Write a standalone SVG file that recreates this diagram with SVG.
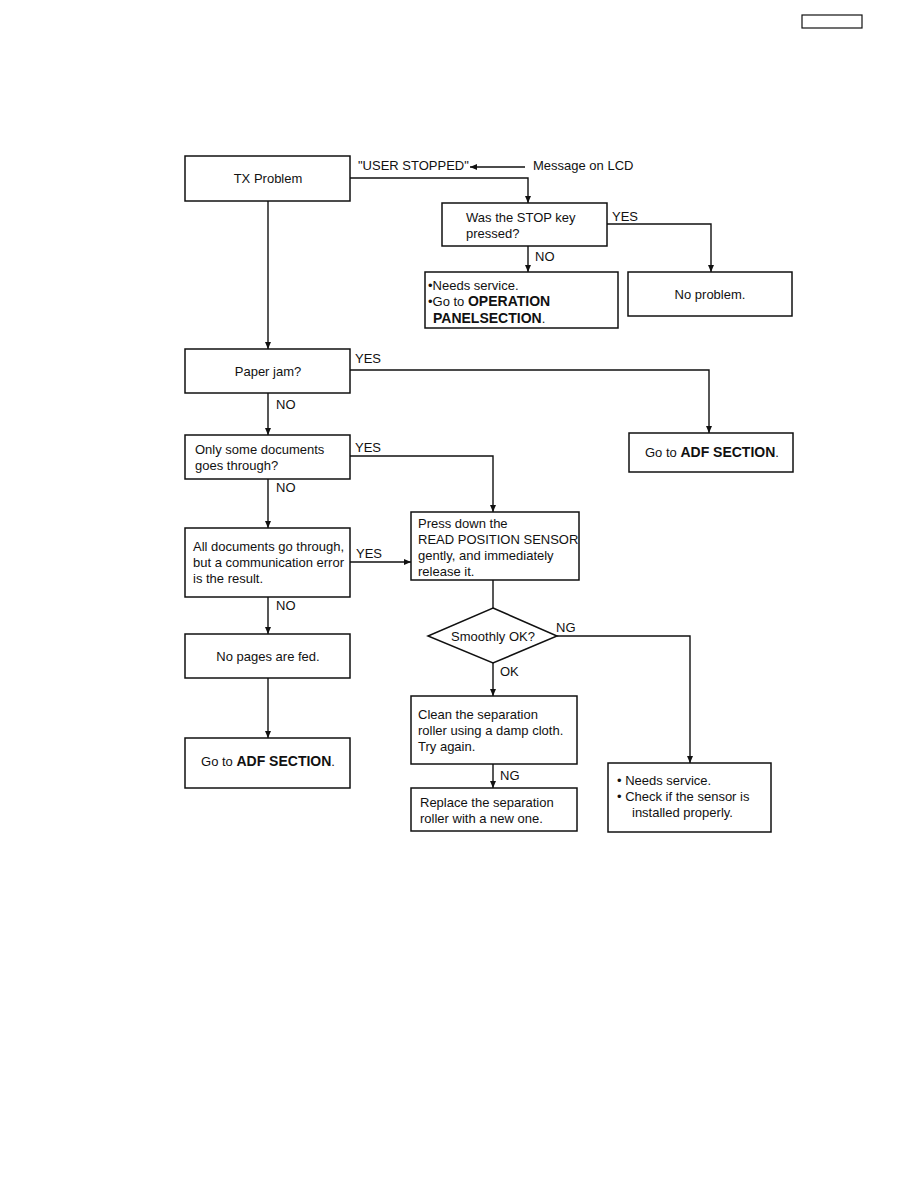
<svg xmlns="http://www.w3.org/2000/svg" width="918" height="1188" viewBox="0 0 918 1188">
<style>
.b{fill:#fff;stroke:#111;stroke-width:1.5}
.c{fill:none;stroke:#111;stroke-width:1.4}
text{font-family:"Liberation Sans",Arial,sans-serif;font-size:13px;fill:#111}
.m{text-anchor:middle}
.bd{font-weight:bold;font-size:14px}
</style>
<defs>
<marker id="a" markerWidth="8" markerHeight="8" refX="7" refY="4" orient="auto" markerUnits="userSpaceOnUse">
<path d="M0,1 L7,4 L0,7 Z" fill="#111"/>
</marker>
</defs>
<rect x="802" y="15" width="60" height="13" fill="none" stroke="#111" stroke-width="1.2"/>
<g id="connectors">
<path class="c" d="M525,167 H470" marker-end="url(#a)"/>
<path class="c" d="M350,178 H528 V203" marker-end="url(#a)"/>
<path class="c" d="M607,224 H711 V272" marker-end="url(#a)"/>
<path class="c" d="M528,246 V272" marker-end="url(#a)"/>
<path class="c" d="M268,201 V349" marker-end="url(#a)"/>
<path class="c" d="M350,370 H709 V433" marker-end="url(#a)"/>
<path class="c" d="M268,393 V435" marker-end="url(#a)"/>
<path class="c" d="M350,456 H493 V512" marker-end="url(#a)"/>
<path class="c" d="M268,479 V528" marker-end="url(#a)"/>
<path class="c" d="M350,562 H411" marker-end="url(#a)"/>
<path class="c" d="M268,597 V634" marker-end="url(#a)"/>
<path class="c" d="M268,678 V738" marker-end="url(#a)"/>
<path class="c" d="M493,580 V608"/>
<path class="c" d="M557,636 H690 V763" marker-end="url(#a)"/>
<path class="c" d="M493,663 V696" marker-end="url(#a)"/>
<path class="c" d="M493,764 V788" marker-end="url(#a)"/>
<text x="358" y="170">"USER STOPPED"</text>
<text x="533" y="170">Message on LCD</text>
<text x="612" y="221">YES</text>
<text x="535" y="261">NO</text>
<text x="355" y="363">YES</text>
<text x="276" y="409">NO</text>
<text x="355" y="452">YES</text>
<text x="276" y="492">NO</text>
<text x="356" y="558">YES</text>
<text x="276" y="610">NO</text>
<text x="556" y="632">NG</text>
<text x="500" y="676">OK</text>
<text x="500" y="780">NG</text>
</g>
<g id="tx"><rect class="b" x="185" y="156" width="165" height="45"/><text class="m" x="268" y="183">TX Problem</text></g>
<g id="stopkey"><rect class="b" x="442" y="203" width="165" height="43"/><text x="466" y="222">Was the STOP key</text><text x="466" y="238">pressed?</text></g>
<g id="noproblem"><rect class="b" x="628" y="272" width="164" height="44"/><text class="m" x="710" y="299">No problem.</text></g>
<g id="opservice"><rect class="b" x="425" y="272" width="193" height="56"/><text x="428" y="290">•Needs service.</text><text x="428" y="306">•Go to <tspan class="bd">OPERATION</tspan></text><text x="433" y="323"><tspan class="bd">PANELSECTION</tspan>.</text></g>
<g id="paperjam"><rect class="b" x="185" y="349" width="165" height="44"/><text class="m" x="268" y="376">Paper jam?</text></g>
<g id="adf1"><rect class="b" x="629" y="433" width="164" height="39"/><text x="645" y="457">Go to <tspan class="bd">ADF SECTION</tspan>.</text></g>
<g id="onlysome"><rect class="b" x="185" y="435" width="165" height="44"/><text x="195" y="454">Only some documents</text><text x="195" y="470">goes through?</text></g>
<g id="press"><rect class="b" x="411" y="512" width="168" height="68"/><text x="418" y="528">Press down the</text><text x="418" y="544">READ POSITION SENSOR</text><text x="418" y="560">gently, and immediately</text><text x="418" y="576">release it.</text></g>
<g id="alldocs"><rect class="b" x="185" y="528" width="165" height="69"/><text x="193" y="551">All documents go through,</text><text x="193" y="567">but a communication error</text><text x="193" y="583">is the result.</text></g>
<g id="nopages"><rect class="b" x="185" y="634" width="165" height="44"/><text class="m" x="268" y="661">No pages are fed.</text></g>
<g id="adf2"><rect class="b" x="185" y="738" width="165" height="50"/><text class="m" x="268" y="766">Go to <tspan class="bd">ADF SECTION</tspan>.</text></g>
<g id="smoothly"><polygon class="b" points="493,608 557,636 493,663 428,636"/><text class="m" x="493" y="641">Smoothly OK?</text></g>
<g id="clean"><rect class="b" x="411" y="696" width="166" height="68"/><text x="418" y="719">Clean the separation</text><text x="418" y="735">roller using a damp cloth.</text><text x="418" y="751">Try again.</text></g>
<g id="replace"><rect class="b" x="411" y="788" width="166" height="43"/><text x="420" y="807">Replace the separation</text><text x="420" y="823">roller with a new one.</text></g>
<g id="sensor"><rect class="b" x="608" y="763" width="163" height="69"/><text x="617" y="785">• Needs service.</text><text x="617" y="801">• Check if the sensor is</text><text x="632" y="817">installed properly.</text></g>
</svg>
